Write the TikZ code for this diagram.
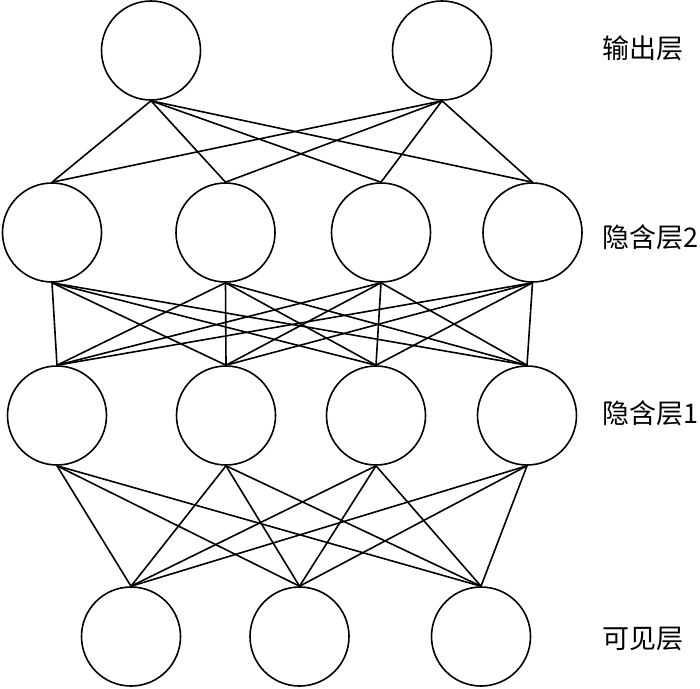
\documentclass[tikz,border=0pt]{standalone}
\usepackage{fontspec}
\newfontfamily\cjk{Noto Sans CJK SC}
\tikzset{
  neuron/.style={draw,circle,line width=1.6pt,minimum size=99pt,inner sep=0pt},
  layername/.style={anchor=west,inner sep=0pt,font=\cjk\fontsize{27}{27}\selectfont}
}
\begin{document}
\begin{tikzpicture}[x=1pt,y=-1pt,line width=1.6pt]
      \useasboundingbox (0,0) rectangle (700,688);
      \draw
        (151,50.5) node[neuron] (o1){}
        (442,50.5) node[neuron] (o2){}
        (52,232.5) node[neuron] (a1){}
        (225.5,232.5) node[neuron] (a2){}
        (381,232.5) node[neuron] (a3){}
        (532.5,232.5) node[neuron] (a4){}
        (57,415.5) node[neuron] (b1){}
        (226,415.5) node[neuron] (b2){}
        (376,415.5) node[neuron] (b3){}
        (527,415.5) node[neuron] (b4){}
        (131,636.5) node[neuron] (v1){}
        (299.5,636.5) node[neuron] (v2){}
        (481,636.5) node[neuron] (v3){};
      \node[layername] (lo) at (602,48) {输出层};
      \node[layername] (la) at (602,237) {隐含层2};
      \node[layername] (lb) at (602,413) {隐含层1};
      \node[layername] (lv) at (602,639) {可见层};
      \begin{scope}[-]
        \draw (o1.south) to (a1.north);
        \draw (o1.south) to (a2.north);
        \draw (o1.south) to (a3.north);
        \draw (o1.south) to (a4.north);
        \draw (o2.south) to (a1.north);
        \draw (o2.south) to (a2.north);
        \draw (o2.south) to (a3.north);
        \draw (o2.south) to (a4.north);
        \draw (a1.south) to (b1.north);
        \draw (a1.south) to (b2.north);
        \draw (a1.south) to (b3.north);
        \draw (a1.south) to (b4.north);
        \draw (a2.south) to (b1.north);
        \draw (a2.south) to (b2.north);
        \draw (a2.south) to (b3.north);
        \draw (a2.south) to (b4.north);
        \draw (a3.south) to (b1.north);
        \draw (a3.south) to (b2.north);
        \draw (a3.south) to (b3.north);
        \draw (a3.south) to (b4.north);
        \draw (a4.south) to (b1.north);
        \draw (a4.south) to (b2.north);
        \draw (a4.south) to (b3.north);
        \draw (a4.south) to (b4.north);
        \draw (b1.south) to (v1.north);
        \draw (b1.south) to (v2.north);
        \draw (b1.south) to (v3.north);
        \draw (b2.south) to (v1.north);
        \draw (b2.south) to (v2.north);
        \draw (b2.south) to (v3.north);
        \draw (b3.south) to (v1.north);
        \draw (b3.south) to (v2.north);
        \draw (b3.south) to (v3.north);
        \draw (b4.south) to (v1.north);
        \draw (b4.south) to (v2.north);
        \draw (b4.south) to (v3.north);
      \end{scope}
    \end{tikzpicture}
\end{document}
